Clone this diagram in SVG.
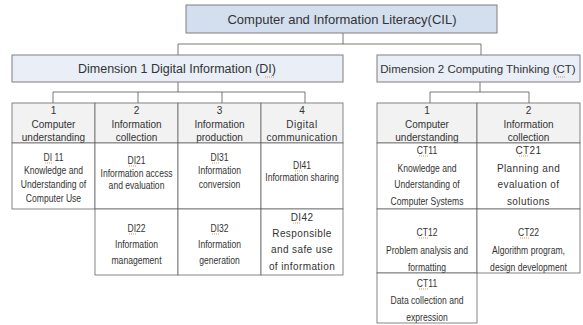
<svg xmlns="http://www.w3.org/2000/svg" width="583" height="325" viewBox="0 0 583 325">
<style>
.bg{fill:#ffffff}
.top{fill:#d3dfee;stroke:#7f7f7f;stroke-width:1}
.dim{fill:#e9eef7;stroke:#7f7f7f;stroke-width:1}
.hdr{fill:#f2f2f2;stroke:#666;stroke-width:0.8}
.cell{fill:#ffffff;stroke:#666;stroke-width:0.8}
.con{stroke:#555;stroke-width:0.8;fill:none}
text{font-family:"Liberation Sans",Arial,sans-serif;fill:#333;text-anchor:middle}
.t1{font-size:13px}
.t2{font-size:12.5px}
.t3{font-size:11.5px}
.h{font-size:10px}
.n{font-size:11px}
.w{font-size:10px;letter-spacing:0.4px}
.sq{stroke:#e07a2a;stroke-width:0.8;stroke-dasharray:1 1;fill:none}
</style>
<rect class="bg" x="0" y="0" width="583" height="325"/>

<g id="connectors">
<path class="con" d="M343 33V44M178 44H481M178 44V55M481 44V55"/>
<path class="con" d="M178 82V92M53 92H305M53 92V103M138 92V103M222 92V103M305 92V103"/>
<path class="con" d="M480 82V92M430 92H529M430 92V103M529 92V103"/>
</g>

<g id="cil">
<rect class="top" x="186" y="5" width="311" height="28"/>
<text class="t1" x="342" y="23.5">Computer and Information Literacy(CIL)</text>
</g>

<g id="dim1">
<rect class="dim" x="12" y="55" width="331" height="27"/>
<text class="t2" x="177" y="73">Dimension 1 Digital Information (DI)</text>
<path class="sq" d="M265 77H275"/>
</g>

<g id="dim2">
<rect class="dim" x="377" y="55" width="203" height="27"/>
<text class="t3" x="478" y="72.5">Dimension 2 Computing Thinking (CT)</text>
<path class="sq" d="M556 77H566"/>
</g>

<g id="di-h1">
<rect class="hdr" x="12" y="103" width="83" height="40"/>
<text class="h" x="53.5" y="114">1</text>
<text class="h" x="53.5" y="127.5">Computer</text>
<text class="h" x="53.5" y="140.5">understanding</text>
</g>
<g id="di-h2">
<rect class="hdr" x="95" y="103" width="83" height="40"/>
<text class="h" x="136.5" y="114">2</text>
<text class="h" x="136.5" y="127.5">Information</text>
<text class="h" x="136.5" y="140.5">collection</text>
</g>
<g id="di-h3">
<rect class="hdr" x="178" y="103" width="83" height="40"/>
<text class="h" x="219.5" y="114">3</text>
<text class="h" x="219.5" y="127.5">Information</text>
<text class="h" x="219.5" y="140.5">production</text>
</g>
<g id="di-h4">
<rect class="hdr" x="261" y="103" width="82" height="40"/>
<text class="h" x="302" y="114">4</text>
<text class="h" x="302" y="127.5" style="letter-spacing:0.5px">Digital</text>
<text class="h" x="302" y="140.5" style="letter-spacing:0.3px">communication</text>
</g>

<g id="di11">
<rect class="cell" x="12" y="143" width="83" height="66"/>
<path class="sq" d="M45 163H52"/>
<g transform="translate(53.5 0) scale(0.78 1)">
<text class="n" x="0" y="161">DI 11</text>
<text class="n" x="0" y="174">Knowledge and</text>
<text class="n" x="0" y="188">Understanding of</text>
<text class="n" x="0" y="202">Computer Use</text>
</g>
</g>
<g id="di21">
<rect class="cell" x="95" y="143" width="83" height="66"/>
<path class="sq" d="M129 166H136"/>
<g transform="translate(136.5 0) scale(0.78 1)">
<text class="n" x="0" y="164">DI21</text>
<text class="n" x="0" y="177">Information access</text>
<text class="n" x="0" y="189">and evaluation</text>
</g>
</g>
<g id="di31">
<rect class="cell" x="178" y="143" width="83" height="66"/>
<path class="sq" d="M212 163H219"/>
<g transform="translate(219.5 0) scale(0.78 1)">
<text class="n" x="0" y="161">DI31</text>
<text class="n" x="0" y="174">Information</text>
<text class="n" x="0" y="188">conversion</text>
</g>
</g>
<g id="di41">
<rect class="cell" x="261" y="143" width="82" height="66"/>
<path class="sq" d="M295 171H302"/>
<g transform="translate(302 0) scale(0.78 1)">
<text class="n" x="0" y="169">DI41</text>
<text class="n" x="0" y="181">Information sharing</text>
</g>
</g>
<g id="di22">
<rect class="cell" x="95" y="209" width="83" height="66"/>
<path class="sq" d="M129 234H136"/>
<g transform="translate(136.5 0) scale(0.78 1)">
<text class="n" x="0" y="232">DI22</text>
<text class="n" x="0" y="248">Information</text>
<text class="n" x="0" y="264">management</text>
</g>
</g>
<g id="di32">
<rect class="cell" x="178" y="209" width="83" height="66"/>
<path class="sq" d="M212 234H219"/>
<g transform="translate(219.5 0) scale(0.78 1)">
<text class="n" x="0" y="232">DI32</text>
<text class="n" x="0" y="248">Information</text>
<text class="n" x="0" y="264">generation</text>
</g>
</g>
<g id="di42">
<rect class="cell" x="261" y="209" width="82" height="66"/>
<text class="w" x="302" y="220.5">DI42</text>
<path class="sq" d="M293 223H301"/>
<text class="w" x="302" y="236.5">Responsible</text>
<text class="w" x="302" y="253">and safe use</text>
<text class="w" x="302" y="269.5">of information</text>
</g>

<g id="ct-h1">
<rect class="hdr" x="377" y="103" width="100" height="40"/>
<text class="h" x="427" y="114">1</text>
<text class="h" x="427" y="127.5">Computer</text>
<text class="h" x="427" y="140.5">understanding</text>
</g>
<g id="ct-h2">
<rect class="hdr" x="477" y="103" width="103" height="40"/>
<text class="h" x="528.5" y="114">2</text>
<text class="h" x="528.5" y="127.5">Information</text>
<text class="h" x="528.5" y="140.5">collection</text>
</g>
<g id="ct11">
<rect class="cell" x="377" y="143" width="100" height="66"/>
<path class="sq" d="M419 156H428"/>
<g transform="translate(427 0) scale(0.78 1)">
<text class="n" x="0" y="154">CT11</text>
<text class="n" x="0" y="172">Knowledge and</text>
<text class="n" x="0" y="188">Understanding of</text>
<text class="n" x="0" y="205">Computer Systems</text>
</g>
</g>
<g id="ct21">
<rect class="cell" x="477" y="143" width="103" height="66"/>
<text class="w" x="528.5" y="153.5">CT21</text>
<path class="sq" d="M519 156H529"/>
<text class="w" x="528.5" y="171.5">Planning and</text>
<text class="w" x="528.5" y="187.5">evaluation of</text>
<text class="w" x="528.5" y="204.5">solutions</text>
</g>
<g id="ct12">
<rect class="cell" x="377" y="209" width="100" height="64"/>
<path class="sq" d="M419 238H428"/>
<g transform="translate(427 0) scale(0.78 1)">
<text class="n" x="0" y="236">CT12</text>
<text class="n" x="0" y="254">Problem analysis and</text>
<text class="n" x="0" y="271">formatting</text>
</g>
</g>
<g id="ct22">
<rect class="cell" x="477" y="209" width="103" height="64"/>
<path class="sq" d="M520 238H529"/>
<g transform="translate(528.5 0) scale(0.78 1)">
<text class="n" x="0" y="236">CT22</text>
<text class="n" x="0" y="254">Algorithm program,</text>
<text class="n" x="0" y="271">design development</text>
</g>
</g>
<g id="ct13">
<rect class="cell" x="377" y="273" width="100" height="50"/>
<path class="sq" d="M419 289H428"/>
<g transform="translate(427 0) scale(0.78 1)">
<text class="n" x="0" y="287">CT11</text>
<text class="n" x="0" y="304">Data collection and</text>
<text class="n" x="0" y="321">expression</text>
</g>
</g>
</svg>
